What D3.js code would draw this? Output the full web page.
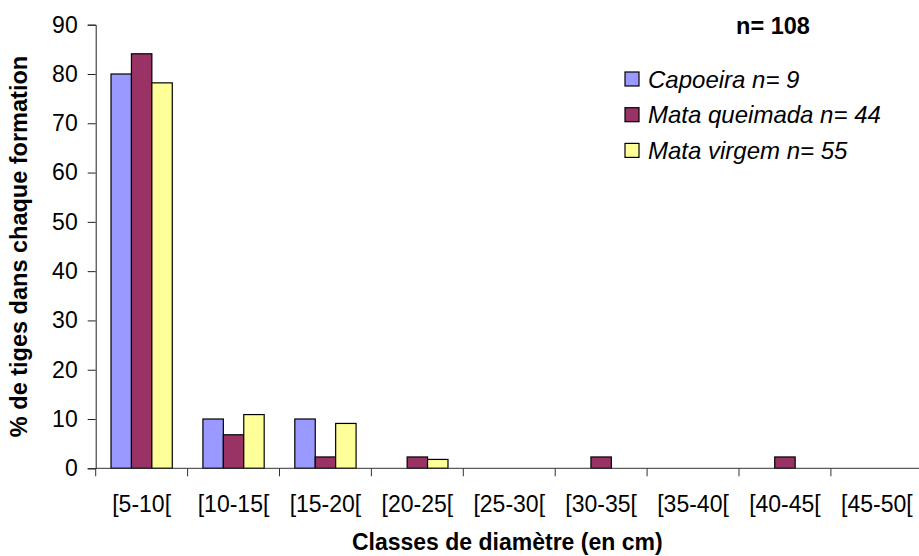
<!DOCTYPE html>
<html><head><meta charset="utf-8">
<script src="https://cdn.jsdelivr.net/npm/d3@7"></script>
<style>body{margin:0;background:#fff}svg{display:block;font-family:"Liberation Sans",Arial,sans-serif}</style>
</head><body>
<svg id="c" width="919" height="556"></svg>
<script>
const categories = ["[5-10[","[10-15[","[15-20[","[20-25[","[25-30[","[30-35[","[35-40[","[40-45[","[45-50["];
const seriesNames = ["Capoeira n= 9","Mata queimada n= 44","Mata virgem n= 55"];
const capoeira = [80, 10, 10, 0, 0, 0, 0, 0, 0];
const mataQueimada = [84.1, 6.8, 2.3, 2.3, 0, 2.3, 0, 2.3, 0];
const mataVirgem = [78.2, 10.9, 9.1, 1.8, 0, 0, 0, 0, 0];
const colors = ["#9999FF","#993366","#FFFF99"];
const yTicks = [0,10,20,30,40,50,60,70,80,90];
const totalLabel = "n= 108";
const xTitle = "Classes de diamètre (en cm)";
const yTitle = "% de tiges dans chaque formation";

const series = [capoeira, mataQueimada, mataVirgem];
const svg = d3.select("#c");
const L = 95.7, R = 922.8, T = 24.7, B = 468.3;

const x = d3.scaleBand().domain(categories).range([L, R]).paddingInner(1/3).paddingOuter(1/6);
const xs = d3.scaleBand().domain(d3.range(series.length)).range([0, x.bandwidth()]);
const y = d3.scaleLinear().domain([0, 90]).range([B, T]);

// bars
series.forEach((vals, si) => {
  svg.append("g").selectAll("rect").data(vals.map((v,i)=>({v, c: categories[i]})).filter(d=>d.v>0))
    .join("rect")
    .attr("x", d => x(d.c) + xs(si))
    .attr("y", d => y(d.v))
    .attr("width", xs.bandwidth())
    .attr("height", d => y(0) - y(d.v))
    .attr("fill", colors[si])
    .attr("stroke", "#000")
    .attr("stroke-width", 1.2);
});

// y axis
const yAxis = svg.append("g").attr("transform", `translate(${L},0)`)
  .call(d3.axisLeft(y).tickValues(yTicks).tickSize(8).tickPadding(10).tickFormat(d3.format("d")));
yAxis.select(".domain").attr("stroke", "#222");
yAxis.selectAll(".tick line").attr("stroke", "#222");
yAxis.selectAll("text").attr("font-size", 23).attr("fill", "#000").attr("font-family", "Liberation Sans, Arial, sans-serif");

// x axis: ticks at category boundaries
const step = x.step();
const xAxis = svg.append("g").attr("transform", `translate(0,${B})`);
xAxis.append("line").attr("x1", L).attr("x2", R).attr("stroke", "#333").attr("stroke-width", 1);
xAxis.selectAll("line.tk").data(categories.map(c => x(c) - x.paddingOuter()*step).concat([R])).join("line")
  .attr("class","tk").attr("x1", d=>d).attr("x2", d=>d).attr("y1", 0).attr("y2", 8).attr("stroke", "#333");
xAxis.selectAll("text").data(categories).join("text")
  .attr("x", c => x(c) + x.bandwidth()/2)
  .attr("y", 44)
  .attr("text-anchor", "middle")
  .attr("font-size", 23)
  .text(c => c);

// titles
svg.append("text").attr("x", (L+R)/2 - 2).attr("y", 550).attr("text-anchor","middle")
  .attr("font-size", 23).attr("font-weight","bold").text(xTitle);
svg.append("text").attr("transform", `translate(27,${(T+B)/2}) rotate(-90)`).attr("text-anchor","middle")
  .attr("font-size", 23.5).attr("font-weight","bold").text(yTitle);

// n total
svg.append("text").attr("x", 773).attr("y", 34).attr("text-anchor","middle")
  .attr("font-size", 23.5).attr("font-weight","bold").text(totalLabel);

// legend
const lg = svg.append("g");
seriesNames.forEach((n, i) => {
  const cy = 79 + i*35.7;
  lg.append("rect").attr("x", 625).attr("y", cy-7).attr("width", 14).attr("height", 14)
    .attr("fill", colors[i]).attr("stroke", "#000").attr("stroke-width", 1.2);
  lg.append("text").attr("x", 648).attr("y", cy).attr("dominant-baseline","central")
    .attr("font-size", 24).attr("font-style","italic").text(n);
});
</script>
</body></html>
